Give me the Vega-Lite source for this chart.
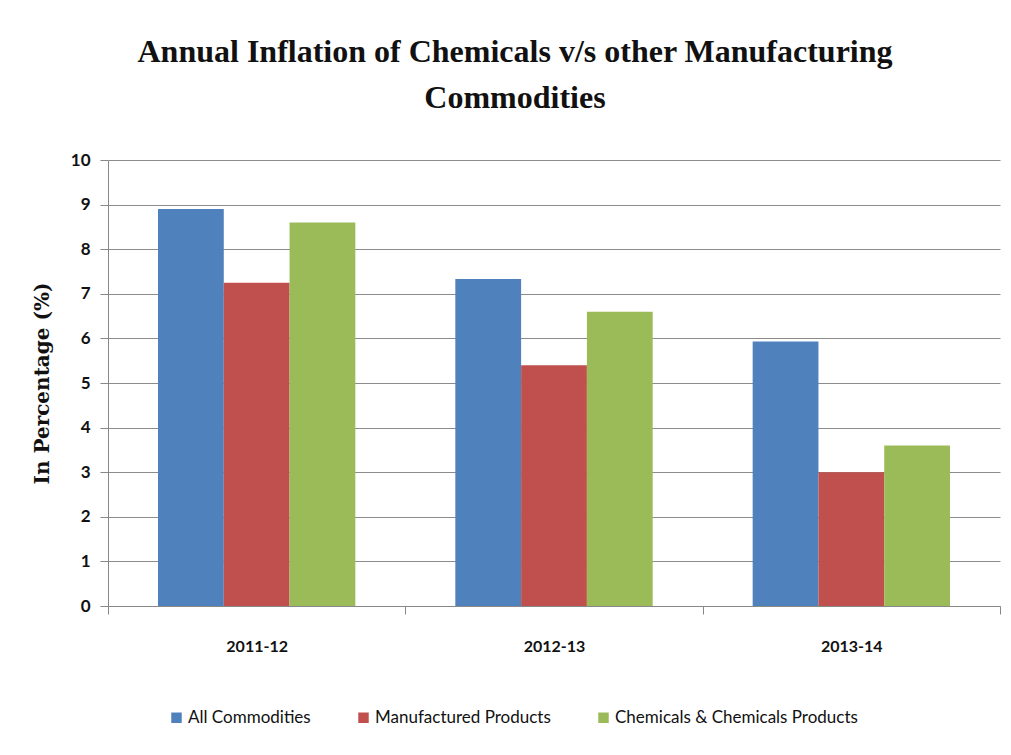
{
  "$schema": "https://vega.github.io/schema/vega-lite/v6.json",
  "autosize": "none",
  "width": 892,
  "height": 446,
  "padding": {"left": 108, "top": 160, "right": 11, "bottom": 149},
  "background": "white",
  "title": {
    "text": ["Annual Inflation of Chemicals v/s other Manufacturing", "Commodities"],
    "font": "Liberation Serif",
    "fontWeight": "bold",
    "fontSize": 32,
    "lineHeight": 46,
    "color": "#111111",
    "anchor": "middle",
    "dx": -39,
    "offset": 36
  },
  "data": {
    "values": [
      {"year": "2011-12", "series": "All Commodities", "value": 8.9},
      {"year": "2011-12", "series": "Manufactured Products", "value": 7.25},
      {"year": "2011-12", "series": "Chemicals & Chemicals Products", "value": 8.6},
      {"year": "2012-13", "series": "All Commodities", "value": 7.33},
      {"year": "2012-13", "series": "Manufactured Products", "value": 5.4},
      {"year": "2012-13", "series": "Chemicals & Chemicals Products", "value": 6.6},
      {"year": "2013-14", "series": "All Commodities", "value": 5.93},
      {"year": "2013-14", "series": "Manufactured Products", "value": 3.0},
      {"year": "2013-14", "series": "Chemicals & Chemicals Products", "value": 3.6}
    ]
  },
  "mark": {"type": "bar"},
  "encoding": {
    "x": {
      "field": "year",
      "type": "nominal",
      "scale": {"paddingInner": 0, "paddingOuter": 0},
      "axis": {
        "title": null,
        "labelAngle": 0,
        "labelFont": "Lato",
        "labelFontWeight": "bold",
        "labelFontSize": 16,
        "labelColor": "#111111",
        "labelPadding": 24,
        "tickBand": "extent",
        "tickSize": 8,
        "tickColor": "#888888",
        "domainColor": "#888888",
        "grid": false
      }
    },
    "xOffset": {
      "field": "series",
      "type": "nominal",
      "sort": ["All Commodities", "Manufactured Products", "Chemicals & Chemicals Products"],
      "scale": {"paddingInner": 0, "paddingOuter": 0.76}
    },
    "y": {
      "field": "value",
      "type": "quantitative",
      "scale": {"domain": [0, 10], "nice": false},
      "axis": {
        "title": "In Percentage (%)",
        "titleFont": "DejaVu Serif",
        "titleFontWeight": "bold",
        "titleFontSize": 20,
        "titleColor": "#111111",
        "titlePadding": 18,
        "values": [0, 1, 2, 3, 4, 5, 6, 7, 8, 9, 10],
        "labelFont": "Lato",
        "labelFontWeight": "bold",
        "labelFontSize": 17,
        "labelColor": "#111111",
        "labelPadding": 10,
        "tickSize": 8,
        "tickColor": "#888888",
        "domainColor": "#888888",
        "grid": true,
        "gridColor": "#8c8c8c",
        "gridWidth": 1.2
      }
    },
    "color": {
      "field": "series",
      "type": "nominal",
      "sort": ["All Commodities", "Manufactured Products", "Chemicals & Chemicals Products"],
      "scale": {
        "domain": ["All Commodities", "Manufactured Products", "Chemicals & Chemicals Products"],
        "range": ["#4F81BD", "#C0504D", "#9BBB59"]
      },
      "legend": {
        "title": null,
        "orient": "none",
        "legendX": 60,
        "legendY": 549,
        "direction": "horizontal",
        "symbolType": "square",
        "symbolSize": 110,
        "symbolStrokeWidth": 0,
        "labelFont": "Lato",
        "labelFontSize": 17,
        "labelColor": "#111111",
        "labelLimit": 0,
        "columnPadding": 44,
        "labelOffset": 3
      }
    }
  },
  "config": {"view": {"stroke": null}}
}
